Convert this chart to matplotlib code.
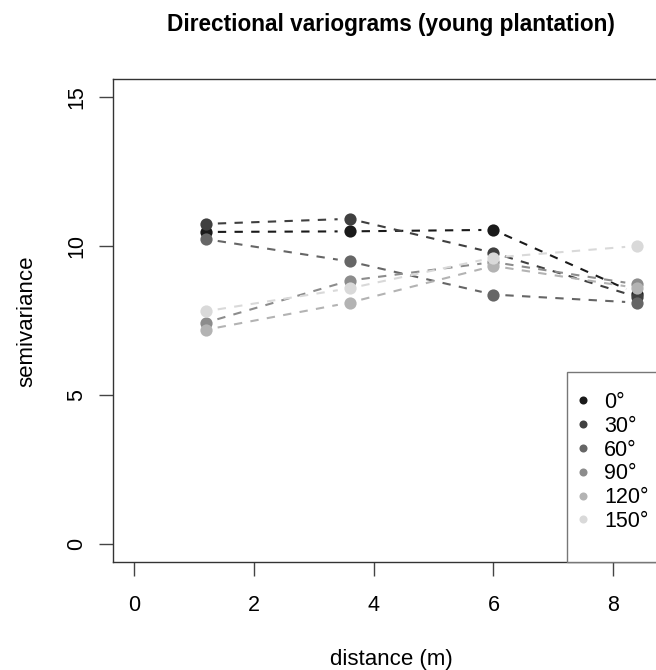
import matplotlib
matplotlib.use('Agg')
import matplotlib.pyplot as plt
from matplotlib.lines import Line2D
from matplotlib.patches import Rectangle
import numpy as np

# distance classes (m) and semivariance per direction
lags = [1.2, 3.6, 6.0, 8.4]
directions = ['0°', '30°', '60°', '90°', '120°', '150°']
gamma_0 = [10.48, 10.50, 10.55, 8.40]
gamma_30 = [10.75, 10.92, 9.78, 8.30]
gamma_60 = [10.24, 9.49, 8.38, 8.11]
gamma_90 = [7.44, 8.85, 9.47, 8.72]
gamma_120 = [7.20, 8.11, 9.34, 8.60]
gamma_150 = [7.82, 8.59, 9.62, 10.01]
greys = ['#1a1a1a', '#404040', '#666666', '#8c8c8c', '#b3b3b3', '#d9d9d9']

series = [gamma_0, gamma_30, gamma_60, gamma_90, gamma_120, gamma_150]

plt.rcParams['font.family'] = ['Liberation Sans', 'DejaVu Sans']

W, H = 656, 670
fig = plt.figure(figsize=(W / 100, H / 100), dpi=100)
left, right, top, bottom = 113.3, 670.0, 79.3, 562.3
ax = fig.add_axes([left / W, 1 - bottom / H, (right - left) / W, (bottom - top) / H])
ax.set_xlim(-0.345, 8.948)
ax.set_ylim(-0.6, 15.6)

# R type="b": segments stop short of the points
gap = 12.0
for k, (vals, col) in enumerate(zip(series, greys)):
    pts = ax.transData.transform(np.column_stack([lags, vals]))
    for i in range(len(pts) - 1):
        p, q = pts[i], pts[i + 1]
        d = q - p
        n = np.hypot(*d)
        a = p + d / n * gap
        b = q - d / n * gap
        seg = ax.transData.inverted().transform(np.array([a, b]))
        ax.plot(seg[:, 0], seg[:, 1], color=col, lw=1.5, linestyle=(0, (4, 4)),
                zorder=2 + 2 * k, solid_capstyle='butt', dash_capstyle='butt')
    ax.plot(lags, vals, 'o', color=col, markersize=8.8, markeredgewidth=0,
            zorder=3 + 2 * k)

for s in ax.spines.values():
    s.set_color('#333333')
    s.set_linewidth(1.0)

ax.set_xticks([0, 2, 4, 6, 8])
ax.set_yticks([0, 5, 10, 15])
ax.set_yticklabels(['0', '5', '10', '15'], rotation=90, va='center')
ax.tick_params(axis='both', length=10, width=1.0, color='#444444', labelsize=15.5)
ax.tick_params(axis='x', pad=13.3)
ax.tick_params(axis='y', pad=9)

fig.text(391 / W, 1 - 24 / H, 'Directional variograms (young plantation)',
         ha='center', va='center', fontsize=16.3, fontweight='bold')
fig.text(391 / W, 1 - 659 / H, 'distance (m)', ha='center', va='center', fontsize=16)
fig.text(27 / W, 1 - 321 / H, 'semivariance', ha='center', va='center',
         rotation=90, fontsize=16)

# legend box in the bottom right corner
ax_w = right - left
ax_h = bottom - top
ax.add_patch(Rectangle(((567 - left) / ax_w, 0), (700 - 567) / ax_w, (bottom - 372) / ax_h,
                       transform=ax.transAxes, facecolor='white', edgecolor='#777777',
                       lw=1.0, zorder=20, clip_on=False))
handles = [Line2D([], [], marker='o', linestyle='none', color=c, markersize=5.8,
                  markeredgewidth=0) for c in greys]
leg = ax.legend(handles, directions, loc='upper left',
                bbox_to_anchor=((572 - left) / ax_w, (bottom - 392) / ax_h),
                frameon=False, fontsize=15.5, borderaxespad=0, borderpad=0,
                handlelength=1.0, handletextpad=0.49, labelspacing=0.13)
leg.set_zorder(21)

fig.savefig('out.png', dpi=100)
